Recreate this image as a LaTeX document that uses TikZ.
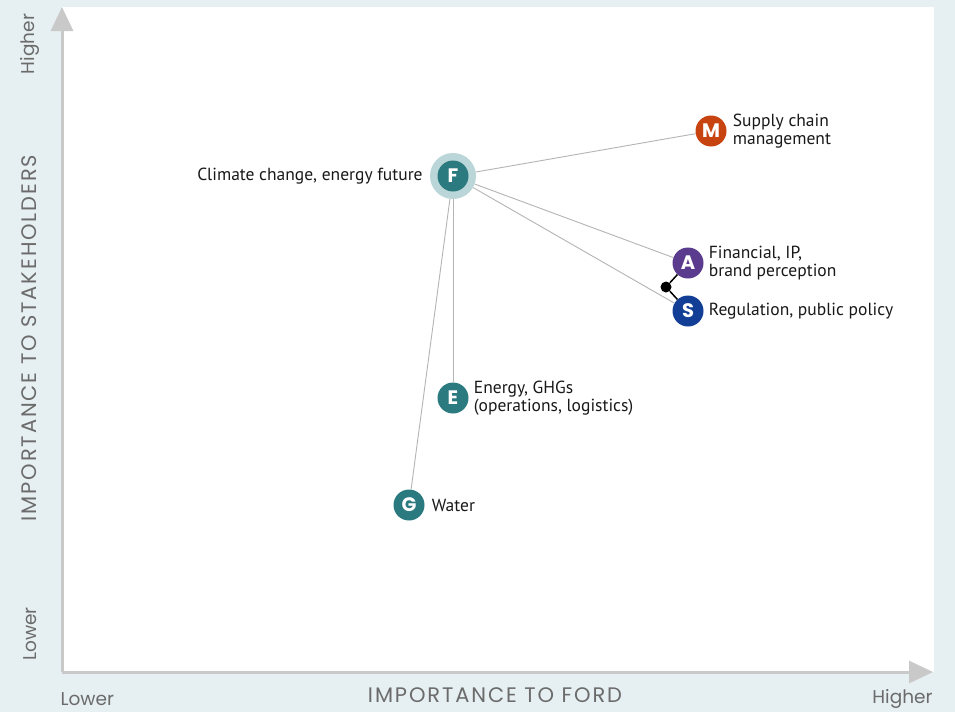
\documentclass[tikz,border=0pt]{standalone}
\usepackage{fontspec}
\setmainfont{PT Sans}
\newfontfamily\axisfont{Poppins}
\newfontfamily\titlefont{Poppins}[LetterSpace=9]
\usetikzlibrary{arrows.meta}
\usetikzlibrary{positioning}
\definecolor{panelbg}{HTML}{E6EFF1}
\definecolor{axisgray}{HTML}{C9C9C9}
\definecolor{linkgray}{HTML}{B4B4B4}
\definecolor{textgray}{HTML}{6B6B6B}
\definecolor{climateteal}{HTML}{2A7A80}
\definecolor{halo}{HTML}{BAD6D8}
\definecolor{supplyred}{HTML}{C7430F}
\definecolor{finpurple}{HTML}{5A3B8D}
\definecolor{regblue}{HTML}{123F95}
\tikzset{
	issue/.style={circle,minimum size=31pt,inner sep=0pt,text=white,font=\axisfont\fontsize{19.5}{19.5}\selectfont\bfseries},
	issuetext/.style={align=left,inner sep=0pt,text=black!90,font=\fontsize{17.5}{18.5}\selectfont},
	link/.style={draw=linkgray,line width=0.9pt},
	axisline/.style={draw=axisgray,line width=3pt,-{Triangle[width=22pt,length=24pt]}},
	axistext/.style={text=textgray,font=\titlefont\fontsize{21}{21}\selectfont},
	endtext/.style={text=textgray,font=\axisfont\fontsize{18.5}{18.5}\selectfont}
}
\begin{document}
\begin{tikzpicture}[x=1pt,y=-1pt]

	\fill[panelbg] (0,0) rectangle (955,712);
	\fill[white] (62,7) rectangle (934,672);
	\useasboundingbox (0,0) rectangle (955,712);

	\coordinate (origin) at (62,672);
	\coordinate (ytop) at (62,7);
	\coordinate (xend) at (933,672);
	\draw[axisline] (origin) -- (ytop);
	\draw[axisline] (origin) -- (xend);

	\node[circle,fill=halo,minimum size=46pt,inner sep=0pt] (Fhalo) at (453,176) {};
	\node[issue,fill=climateteal] (F) at (Fhalo) {F};
	\node[issue,fill=supplyred] (M) at (711,131) {M};
	\node[issue,fill=finpurple] (A) at (688,263) {A};
	\node[issue,fill=regblue] (S) at (688,311) {S};
	\node[issue,fill=climateteal] (E) at (453,398) {E};
	\node[issue,fill=climateteal] (G) at (409,505) {G};
	\node[circle,fill=black,minimum size=11pt,inner sep=0pt] (pair) at (666,287) {};

	\draw[link] (Fhalo) -- (M);
	\draw[link] (Fhalo) -- (A);
	\draw[link] (Fhalo) -- (S);
	\draw[link] (Fhalo) -- (E);
	\draw[link] (Fhalo) -- (G);
	\draw[black,line width=1.5pt] (A) -- (pair) -- (S);

	\node[issuetext,left=7pt of Fhalo] (Ftext) {Climate change, energy future};
	\node[issuetext,right=6pt of M] (Mtext) {Supply chain\\management};
	\node[issuetext,right=5pt of A] (Atext) {Financial, IP,\\brand perception};
	\node[issuetext,right=5pt of S] (Stext) {Regulation, public policy};
	\node[issuetext,right=5pt of E] (Etext) {Energy, GHGs\\(operations, logistics)};
	\node[issuetext,right=7pt of G] (Gtext) {Water};

	\node[axistext] (xtitle) at (495,695) {IMPORTANCE TO FORD};
	\node[axistext,rotate=90] (ytitle) at (29,338) {IMPORTANCE TO STAKEHOLDERS};
	\node[endtext,anchor=west] (xlow) at (57,699) {Lower};
	\node[endtext,anchor=east] (xhigh) at (936,699) {Higher};
	\node[endtext,rotate=90] (ylow) at (30,634) {Lower};
	\node[endtext,rotate=90] (yhigh) at (30,44) {Higher};

	\end{tikzpicture}
\end{document}
